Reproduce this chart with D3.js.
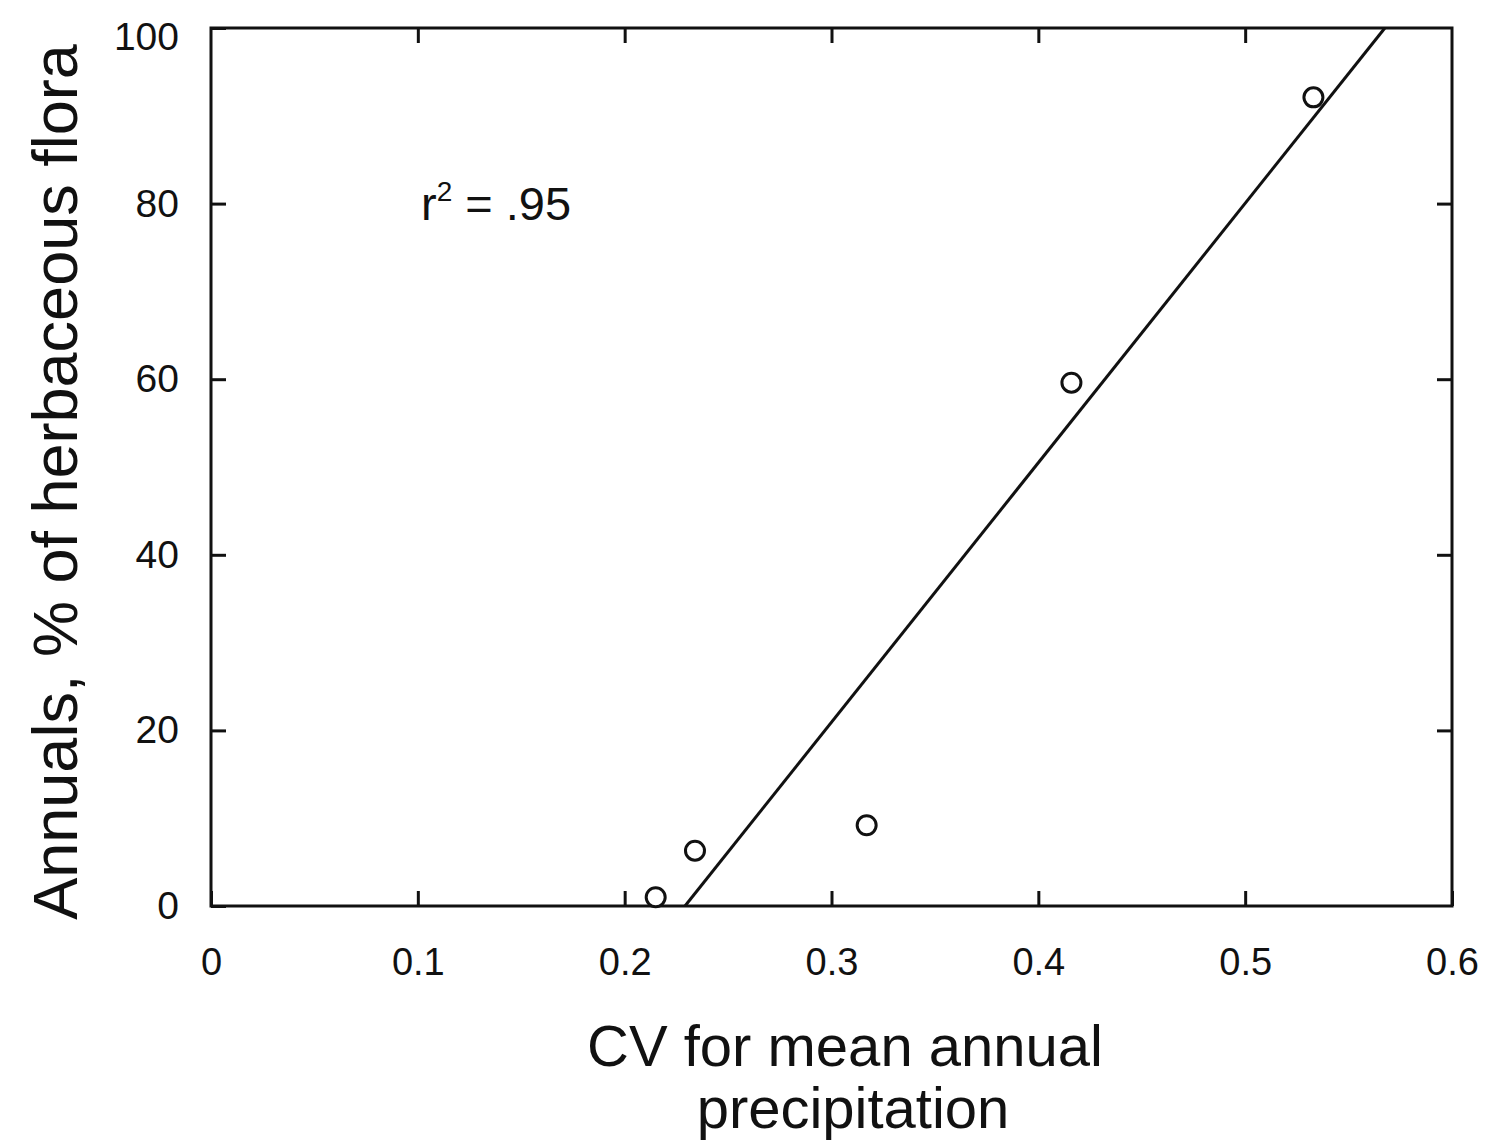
<!DOCTYPE html>
<html>
<head>
<meta charset="utf-8">
<script src="https://cdn.jsdelivr.net/npm/d3@7"></script>
<style>
  body { margin: 0; background: #fff; }
  text { font-family: "Liberation Sans", Arial, sans-serif; fill: #111; }
</style>
</head>
<body>
<svg id="chart" width="1503" height="1146"></svg>
<script>
// points
const cv = [0.215, 0.234, 0.317, 0.416, 0.533];
const annuals = [1.0, 6.3, 9.2, 59.6, 92.1];

const xTicks = [0, 0.1, 0.2, 0.3, 0.4, 0.5, 0.6];
const yTicks = [0, 20, 40, 60, 80, 100];

const W = 1503, H = 1146;
const margin = {left: 211, right: 51, top: 28, bottom: 240};

const svg = d3.select('#chart');

const x = d3.scaleLinear().domain([0, 0.6]).range([margin.left, W - margin.right]);
const y = d3.scaleLinear().domain([0, 100]).range([H - margin.bottom, margin.top]);

const tickLen = 15;

// inward ticks on all four sides
svg.append('g')
  .attr('transform', `translate(0,${y(0)})`)
  .call(d3.axisBottom(x).tickValues(xTicks).tickSizeInner(-tickLen).tickSizeOuter(0).tickPadding(42)
    .tickFormat(d => d === 0 ? '0' : d3.format('.1f')(d)))
  .call(g => g.select('.domain').remove())
  .call(g => g.selectAll('.tick line').attr('stroke', '#111').attr('stroke-width', 3))
  .call(g => g.selectAll('.tick text').attr('font-size', 38).attr('fill', '#222'));

svg.append('g')
  .attr('transform', `translate(0,${y(100)})`)
  .call(d3.axisTop(x).tickValues(xTicks.slice(1, -1)).tickSizeInner(-tickLen).tickSizeOuter(0).tickFormat(''))
  .call(g => g.select('.domain').remove())
  .call(g => g.selectAll('.tick line').attr('stroke', '#111').attr('stroke-width', 3));

svg.append('g')
  .attr('transform', `translate(${x(0)},0)`)
  .call(d3.axisLeft(y).tickValues(yTicks).tickSizeInner(-tickLen).tickSizeOuter(0).tickPadding(32))
  .call(g => g.select('.domain').remove())
  .call(g => g.selectAll('.tick line').attr('stroke', '#111').attr('stroke-width', 3))
  .call(g => g.selectAll('.tick text').attr('font-size', 39).attr('fill', '#222')
    .attr('dy', d => d === 100 ? '0.55em' : '0.32em'));

svg.append('g')
  .attr('transform', `translate(${x(0.6)},0)`)
  .call(d3.axisRight(y).tickValues(yTicks.slice(1, -1)).tickSizeInner(-tickLen).tickSizeOuter(0).tickFormat(''))
  .call(g => g.select('.domain').remove())
  .call(g => g.selectAll('.tick line').attr('stroke', '#111').attr('stroke-width', 3));

// frame
svg.append('rect')
  .attr('x', x(0)).attr('y', y(100))
  .attr('width', x(0.6) - x(0)).attr('height', y(0) - y(100))
  .attr('fill', 'none').attr('stroke', '#111').attr('stroke-width', 3);

// least squares fit, clipped to 0..100
const mx = d3.mean(cv), my = d3.mean(annuals);
const slope = d3.sum(cv, (d, i) => (d - mx) * (annuals[i] - my)) / d3.sum(cv, d => (d - mx) ** 2);
const icpt = my - slope * mx;
const fit = [0, 100].map(v => [(v - icpt) / slope, v]);

svg.append('path')
  .datum(fit)
  .attr('fill', 'none').attr('stroke', '#111').attr('stroke-width', 3)
  .attr('d', d3.line().x(d => x(d[0])).y(d => y(d[1])));

svg.append('g').selectAll('circle')
  .data(cv.map((d, i) => [d, annuals[i]]))
  .join('circle')
  .attr('cx', d => x(d[0])).attr('cy', d => y(d[1]))
  .attr('r', 9.5)
  .attr('fill', '#fff').attr('stroke', '#111').attr('stroke-width', 3);

// r² annotation
const r2 = svg.append('text').attr('x', 421).attr('y', 220).attr('font-size', 47);
r2.append('tspan').text('r');
r2.append('tspan').attr('font-size', 28).attr('dy', -19).text('2');
r2.append('tspan').attr('dy', 19).text(' = .95');

// axis titles
svg.append('text')
  .attr('x', 845).attr('y', 1066)
  .attr('text-anchor', 'middle').attr('font-size', 58)
  .text('CV for mean annual');
svg.append('text')
  .attr('x', 853).attr('y', 1128)
  .attr('text-anchor', 'middle').attr('font-size', 58)
  .text('precipitation');

svg.append('text')
  .attr('transform', 'translate(77,482) rotate(-90)')
  .attr('text-anchor', 'middle').attr('font-size', 63)
  .text('Annuals, % of herbaceous flora');
</script>
</body>
</html>
